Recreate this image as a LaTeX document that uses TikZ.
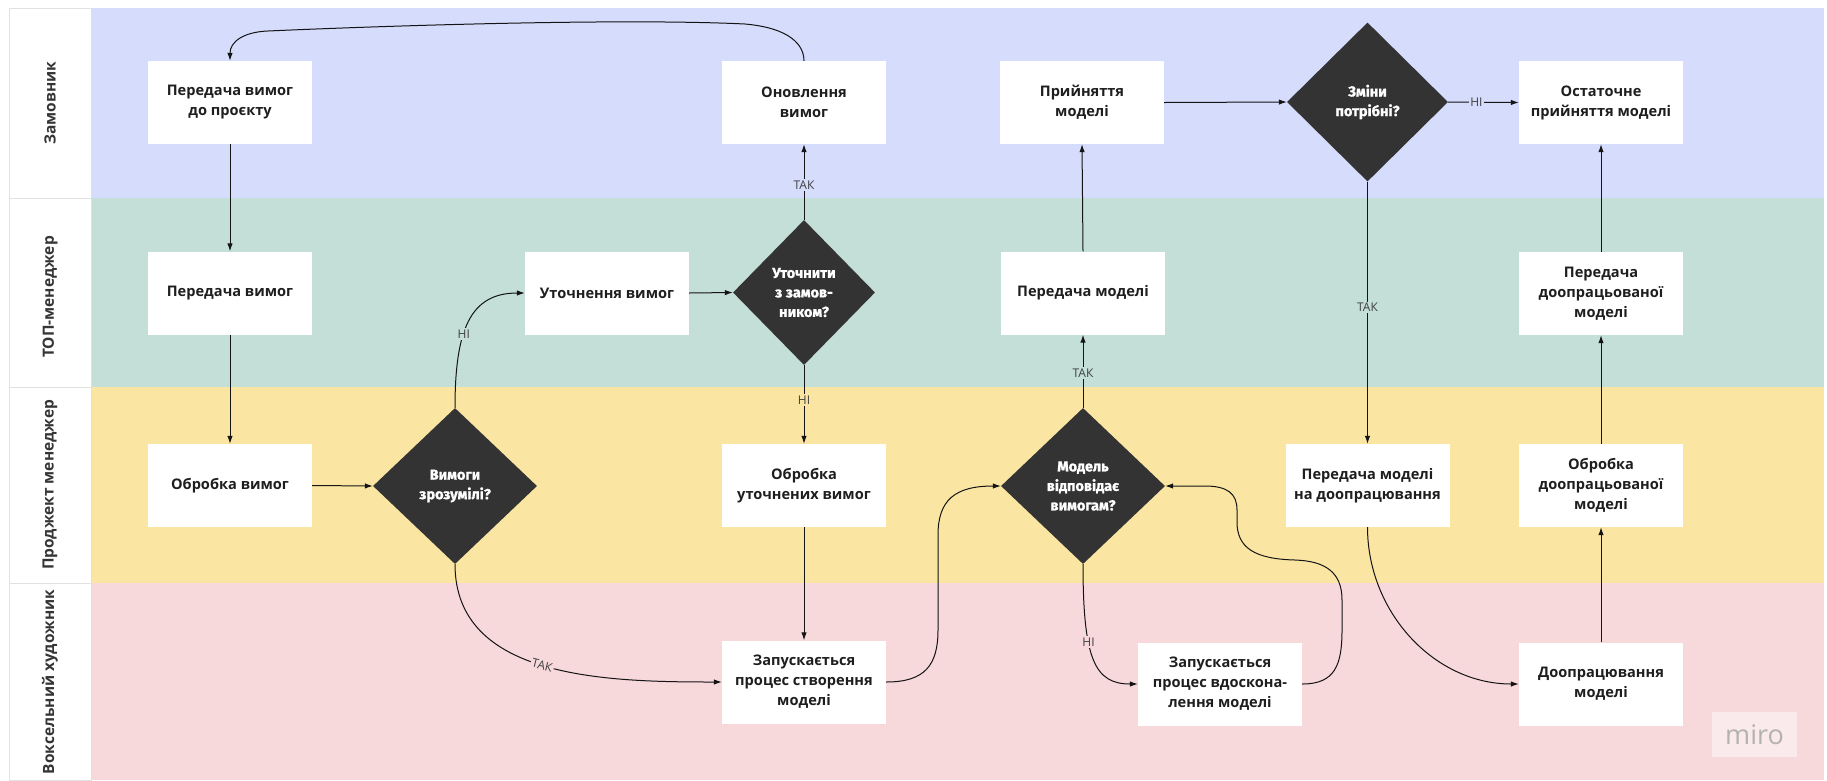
\documentclass[tikz,border=0pt]{standalone}
\usepackage{fontspec}
\setmainfont{Open Sans}
\newfontfamily\dfont{Fira Sans}[BoldFeatures={FakeBold=1.2}]
\usetikzlibrary{shapes.geometric,arrows.meta}

\definecolor{laneA}{RGB}{214,220,251}
\definecolor{laneB}{RGB}{196,223,215}
\definecolor{laneC}{RGB}{250,230,162}
\definecolor{laneD}{RGB}{247,216,219}
\definecolor{dia}{RGB}{51,51,51}
\definecolor{ink}{RGB}{30,30,30}
\definecolor{wire}{RGB}{20,20,20}
\definecolor{cellline}{RGB}{225,225,225}

\begin{document}
\begin{tikzpicture}[x=1pt,y=-1pt,
  stepbox/.style={rectangle, fill=white, minimum width=164pt, minimum height=83pt,
    inner sep=2pt, align=center, text=ink, font=\fontsize{14.6}{20}\selectfont\bfseries},
  decision/.style={diamond, fill=dia, inner sep=0pt, align=center, text=white,
    font=\dfont\fontsize{14.5}{19.5}\selectfont\bfseries},
  arr/.style={draw=wire, line width=1pt, -{Latex[length=8pt,width=5.5pt]}},
  lbl/.style={font=\fontsize{12}{13}\selectfont, text=ink!85, inner sep=1.5pt},
  lanename/.style={rotate=90, font=\fontsize{15.5}{18}\selectfont\bfseries, text=ink!90},
  lanecell/.style={fill=white, draw=cellline, line width=0.8pt},
]
\useasboundingbox (0,0) rectangle (1827,780);
\fill[white] (0,0) rectangle (1827,780);

% swimlanes
\fill[laneA] (91,8)   rectangle (1824,198);
\fill[laneB] (91,198) rectangle (1824,387);
\fill[laneC] (91,387) rectangle (1824,583);
\fill[laneD] (91,583) rectangle (1824,780);

% lane title cells
\draw[lanecell] (9,8)   rectangle (91,198);
\draw[lanecell] (9,198) rectangle (91,387);
\draw[lanecell] (9,387) rectangle (91,583);
\draw[lanecell] (9,583) rectangle (91,780);
\node[lanename] (L1) at (50,103) {Замовник};
\node[lanename] (L2) at (50,297) {ТОП-менеджер};
\node[lanename] (L3) at (50,485) {Проджект менеджер};
\node[lanename] (L4) at (50,682) {Воксельний художник};

% customer lane
\node[stepbox] (A1) at (230,102.5) {Передача вимог\\до проєкту};
\node[stepbox] (A2) at (804,102.5) {Оновлення\\вимог};
\node[stepbox] (A3) at (1082,102.5) {Прийняття\\моделі};
\node[decision, minimum width=161pt, minimum height=159pt] (D3) at (1367.5,102) {Зміни\\потрібні?};
\node[stepbox] (A4) at (1601,102.5) {Остаточне\\прийняття моделі};

% top manager lane
\node[stepbox] (B1) at (230,293) {Передача вимог};
\node[stepbox] (B2) at (607,293) {Уточнення вимог};
\node[decision, minimum width=142pt, minimum height=145pt] (D1) at (804,292.5) {Уточнити\\з замов-\\ником?};
\node[stepbox] (B3) at (1083,293) {Передача моделі};
\node[stepbox] (B4) at (1601,293.5) {Передача\\доопрацьованої\\моделі};

% project manager lane
\node[stepbox] (C1) at (230,485.5) {Обробка вимог};
\node[decision, minimum width=164pt, minimum height=156pt] (D0) at (455,486) {Вимоги\\зрозумілі?};
\node[stepbox] (C2) at (804,485.5) {Обробка\\уточнених вимог};
\node[decision, minimum width=164pt, minimum height=156pt] (D2) at (1083,486) {Модель\\відповідає\\вимогам?};
\node[stepbox] (C3) at (1367.5,485.5) {Передача моделі\\на доопрацювання};
\node[stepbox] (C4) at (1601,485.5) {Обробка\\доопрацьованої\\моделі};

% voxel artist lane
\node[stepbox] (E1) at (804,682) {Запускається\\процес створення\\моделі};
\node[stepbox] (E2) at (1220,684) {Запускається\\процес вдоскона-\\лення моделі};
\node[stepbox] (E3) at (1601,684) {Доопрацювання\\моделі};

% straight connectors
\draw[arr] (A1.south) -- (B1.north);
\draw[arr] (B1.south) -- (C1.north);
\draw[arr] (C1.east) -- (D0.west);
\draw[arr] (B2.east) -- (D1.west);
\draw[arr] (D1.north) -- node[lbl, fill=laneA, pos=0.46] {ТАК} (A2.south);
\draw[arr] (D1.south) -- node[lbl, fill=laneC, pos=0.44] {НІ} (C2.north);
\draw[arr] (C2.south) -- (E1.north);
\draw[arr] (D2.north) -- node[lbl, fill=laneB, pos=0.48] {ТАК} (B3.south);
\draw[arr] (B3.north) -- (A3.south);
\draw[arr] (A3.east) -- (D3.west);
\draw[arr] (D3.east) -- node[lbl, fill=laneA, pos=0.4] {НІ} (A4.west);
\draw[arr] (D3.south) -- node[lbl, fill=laneB, pos=0.48] {ТАК} (C3.north);
\draw[arr] (E3.north) -- (C4.south);
\draw[arr] (C4.north) -- (B4.south);
\draw[arr] (B4.north) -- (A4.south);

% curved connectors
\draw[arr] (A2.north) .. controls (804,45) and (790,28) .. (745,24)
  .. controls (620,18) and (380,26) .. (268,31)
  .. controls (243,32) and (230,42) .. (A1.north);
\draw[arr] (D0.north) .. controls (455,330) and (470,293) ..
  node[lbl, fill=laneB, pos=0.4] {НІ} (B2.west);
\draw[arr] (D0.south) .. controls (455,679) and (607,682) ..
  node[lbl, fill=laneD, pos=0.49, rotate=-14] {ТАК} (E1.west);
\draw[arr] (E1.east) .. controls (925,682) and (938,665) .. (938,630)
  -- (938,535) .. controls (938,500) and (955,486) .. (D2.west);
\draw[arr] (D2.south) .. controls (1083,660) and (1095,684) ..
  node[lbl, fill=laneD, pos=0.36] {НІ} (E2.west);
\draw[arr] (E2.east) .. controls (1335,684) and (1342,665) .. (1342,630)
  -- (1342,600) .. controls (1342,572) and (1325,561) .. (1295,560)
  .. controls (1255,559) and (1237,548) .. (1237,522)
  -- (1237,510) .. controls (1237,494) and (1228,486) .. (1205,486)
  -- (D2.east);
\draw[arr] (C3.south) .. controls (1367.5,612) and (1434,684) .. (E3.west);

% board watermark
\node[fill=laneD!55!white, minimum width=85pt, minimum height=45pt, inner sep=0pt,
  text=black!30, font=\fontsize{27}{30}\selectfont] (wm) at (1754.5,734.5) {miro};
\end{tikzpicture}
\end{document}
